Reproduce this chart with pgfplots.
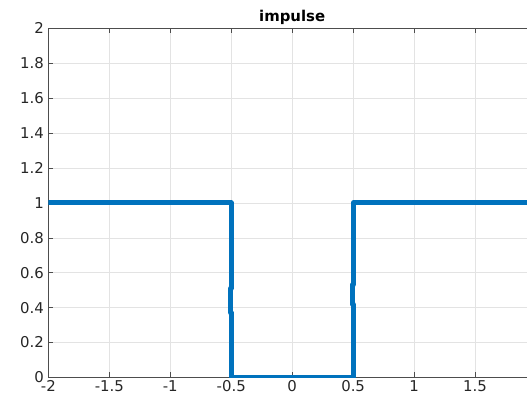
\documentclass[border=0pt]{standalone}
\usepackage{fontspec}
\setmainfont{DejaVu Sans}
\usepackage{pgfplots}
\pgfplotsset{compat=1.18}
\definecolor{mblue}{rgb}{0,0.447,0.741}
\definecolor{axgray}{HTML}{4D4D4D}
\definecolor{txtgray}{HTML}{262626}
\begin{document}
\begin{tikzpicture}
\begin{axis}[
  scale only axis,
  width=489bp, height=350bp,
  xmin=-2, xmax=2, ymin=0, ymax=2,
  xtick={-2,-1.5,...,2}, ytick={0,0.2,...,2},
  xticklabels={-2,-1.5,-1,-0.5,0,0.5,1,1.5,{}},
  yticklabels={0,0.2,0.4,0.6,0.8,1,1.2,1.4,1.6,1.8,2},
  tick align=inside,
  major tick length=5bp,
  tick style={axgray, line width=0.6bp},
  axis line style={axgray, line width=0.6bp},
  grid=major,
  major grid style={gray!22, line width=0.5bp},
  /pgf/number format/assume math mode=true,
  ticklabel style={font=\fontsize{15}{17}\selectfont, text=txtgray},
  yticklabel style={xshift=-1bp},
  extra description/.code={},
  xticklabel style={yshift=0.5bp},
  title={\textbf{impulse}},
  title style={font=\fontsize{15}{17}\selectfont, text=black, yshift=-6bp},
  clip=true,
]
\addplot[mblue, line width=5bp, line join=round] coordinates {
(-2,1) (-0.501,1) (-0.501,0.51) (-0.508,0.51) (-0.508,0.37) (-0.501,0.37) (-0.501,0)
(0.502,0) (0.502,0.42) (0.496,0.42) (0.496,0.53) (0.502,0.53) (0.502,1) (2,1)};
\coordinate (sw) at (rel axis cs:0,0);
\coordinate (ne) at (rel axis cs:1,1);
\end{axis}
\pgfresetboundingbox
\path[use as bounding box] ([xshift=-48.5bp,yshift=-19bp]sw) rectangle ([xshift=-9bp,yshift=28.5bp]ne);
\end{tikzpicture}
\end{document}
